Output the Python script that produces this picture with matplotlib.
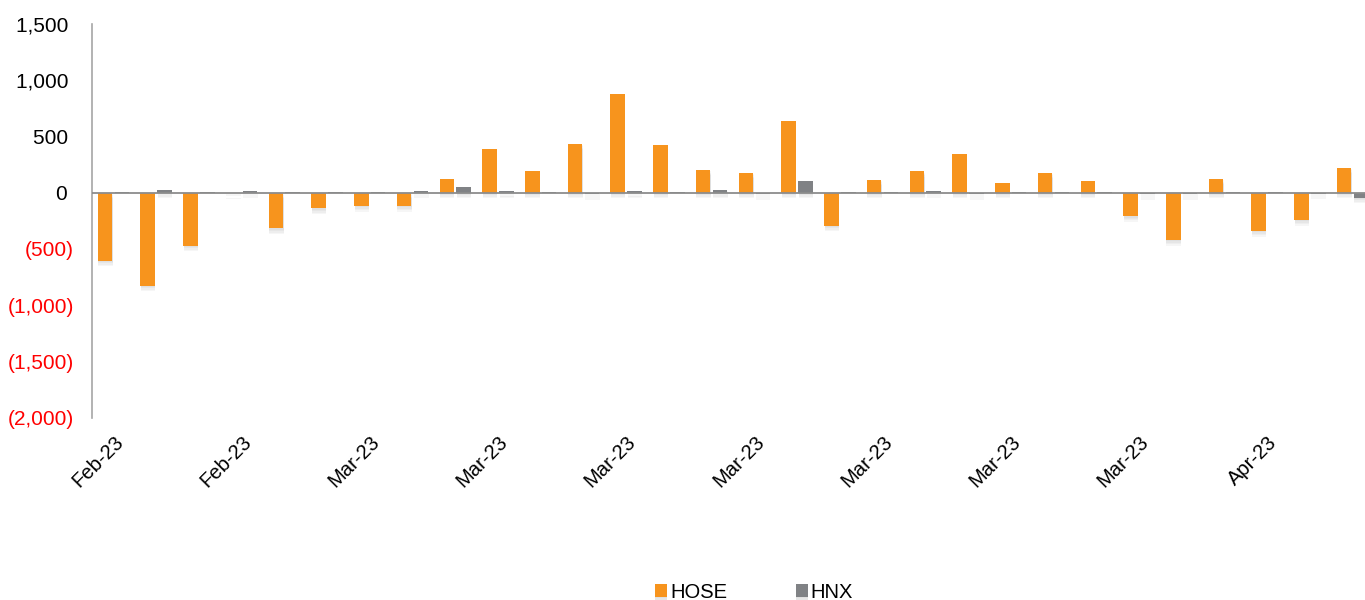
import matplotlib.pyplot as plt
import matplotlib.patheffects as pe
import numpy as np

plt.rcParams['font.family'] = ['Liberation Sans', 'DejaVu Sans']

# net foreign flows by session (bn VND)
hose = [-605, -827, -472, -5, -318, -140, -119, -119, 124, 391,
        193, 436, 878, 424, 202, 178, 634, -294, 116, 190,
        344, 89, 178, 101, -210, -421, 122, -341, -243, 222]
hnx = [2, 27, 2, 15, 2, 2, 2, 12, 47, 18,
       2, -12, 18, 2, 27, -12, 104, 2, 2, 15,
       -12, 2, 2, 2, -12, -12, 2, 2, -10, -45]
tick_labels = ['Feb-23', 'Feb-23', 'Mar-23', 'Mar-23', 'Mar-23',
               'Mar-23', 'Mar-23', 'Mar-23', 'Mar-23', 'Apr-23']
y_ticks = [-2000, -1500, -1000, -500, 0, 500, 1000, 1500]

orange = '#F7941D'
grey = '#808285'

fig = plt.figure(figsize=(13.65, 6.0), dpi=100)
ax = fig.add_axes([92 / 1365, 1 - 417.5 / 600, 1282 / 1365, 393.5 / 600])

x = np.arange(len(hose))
w = 0.34
# soft drop shadow: a few faint offset copies
shadow = [pe.SimplePatchShadow(offset=(0.3, -k), shadow_rgbFace='#8a8a8a', alpha=0.07)
          for k in (1.0, 2.0, 3.0, 4.0)] + [pe.Normal()]
b1 = ax.bar(x - 0.197, hose, w, color=orange, label='HOSE', zorder=2)
b2 = ax.bar(x + 0.197, hnx, w, color=grey, label='HNX', zorder=2)
for p in list(b1) + list(b2):
    p.set_path_effects(shadow)

ax.axhline(0, color='#8c8c8c', lw=1.3, zorder=3)

ax.set_xlim(-0.5, len(hose) - 0.5)
ax.set_ylim(-2000, 1500)

ax.set_xticks(x[::3])
ax.set_xticklabels(tick_labels, rotation=45, ha='right', va='top',
                   rotation_mode='anchor', fontsize=14.5)
ax.tick_params(axis='x', length=0, pad=11)

ax.set_yticks(y_ticks)
labs = []
for v in y_ticks:
    if v < 0:
        labs.append('({:,})'.format(-v))
    else:
        labs.append('{:,} '.format(v))
ax.set_yticklabels(labs, fontsize=15)
for t, v in zip(ax.get_yticklabels(), y_ticks):
    t.set_color('#FF0000' if v < 0 else 'black')
ax.tick_params(axis='y', length=0, pad=13)

for s in ['top', 'right', 'bottom']:
    ax.spines[s].set_visible(False)
ax.spines['left'].set_color('#a6a6a6')
ax.spines['left'].set_linewidth(1.2)

fig.legend(handles=[b1, b2], labels=['HOSE', 'HNX'], loc='center',
           bbox_to_anchor=(754 / 1365, 1 - 592 / 600), ncol=2, frameon=False,
           fontsize=14.5, handlelength=0.6, handleheight=0.6,
           handletextpad=0.15, columnspacing=3.4)

plt.savefig('out.png', dpi=100)
plt.close()
